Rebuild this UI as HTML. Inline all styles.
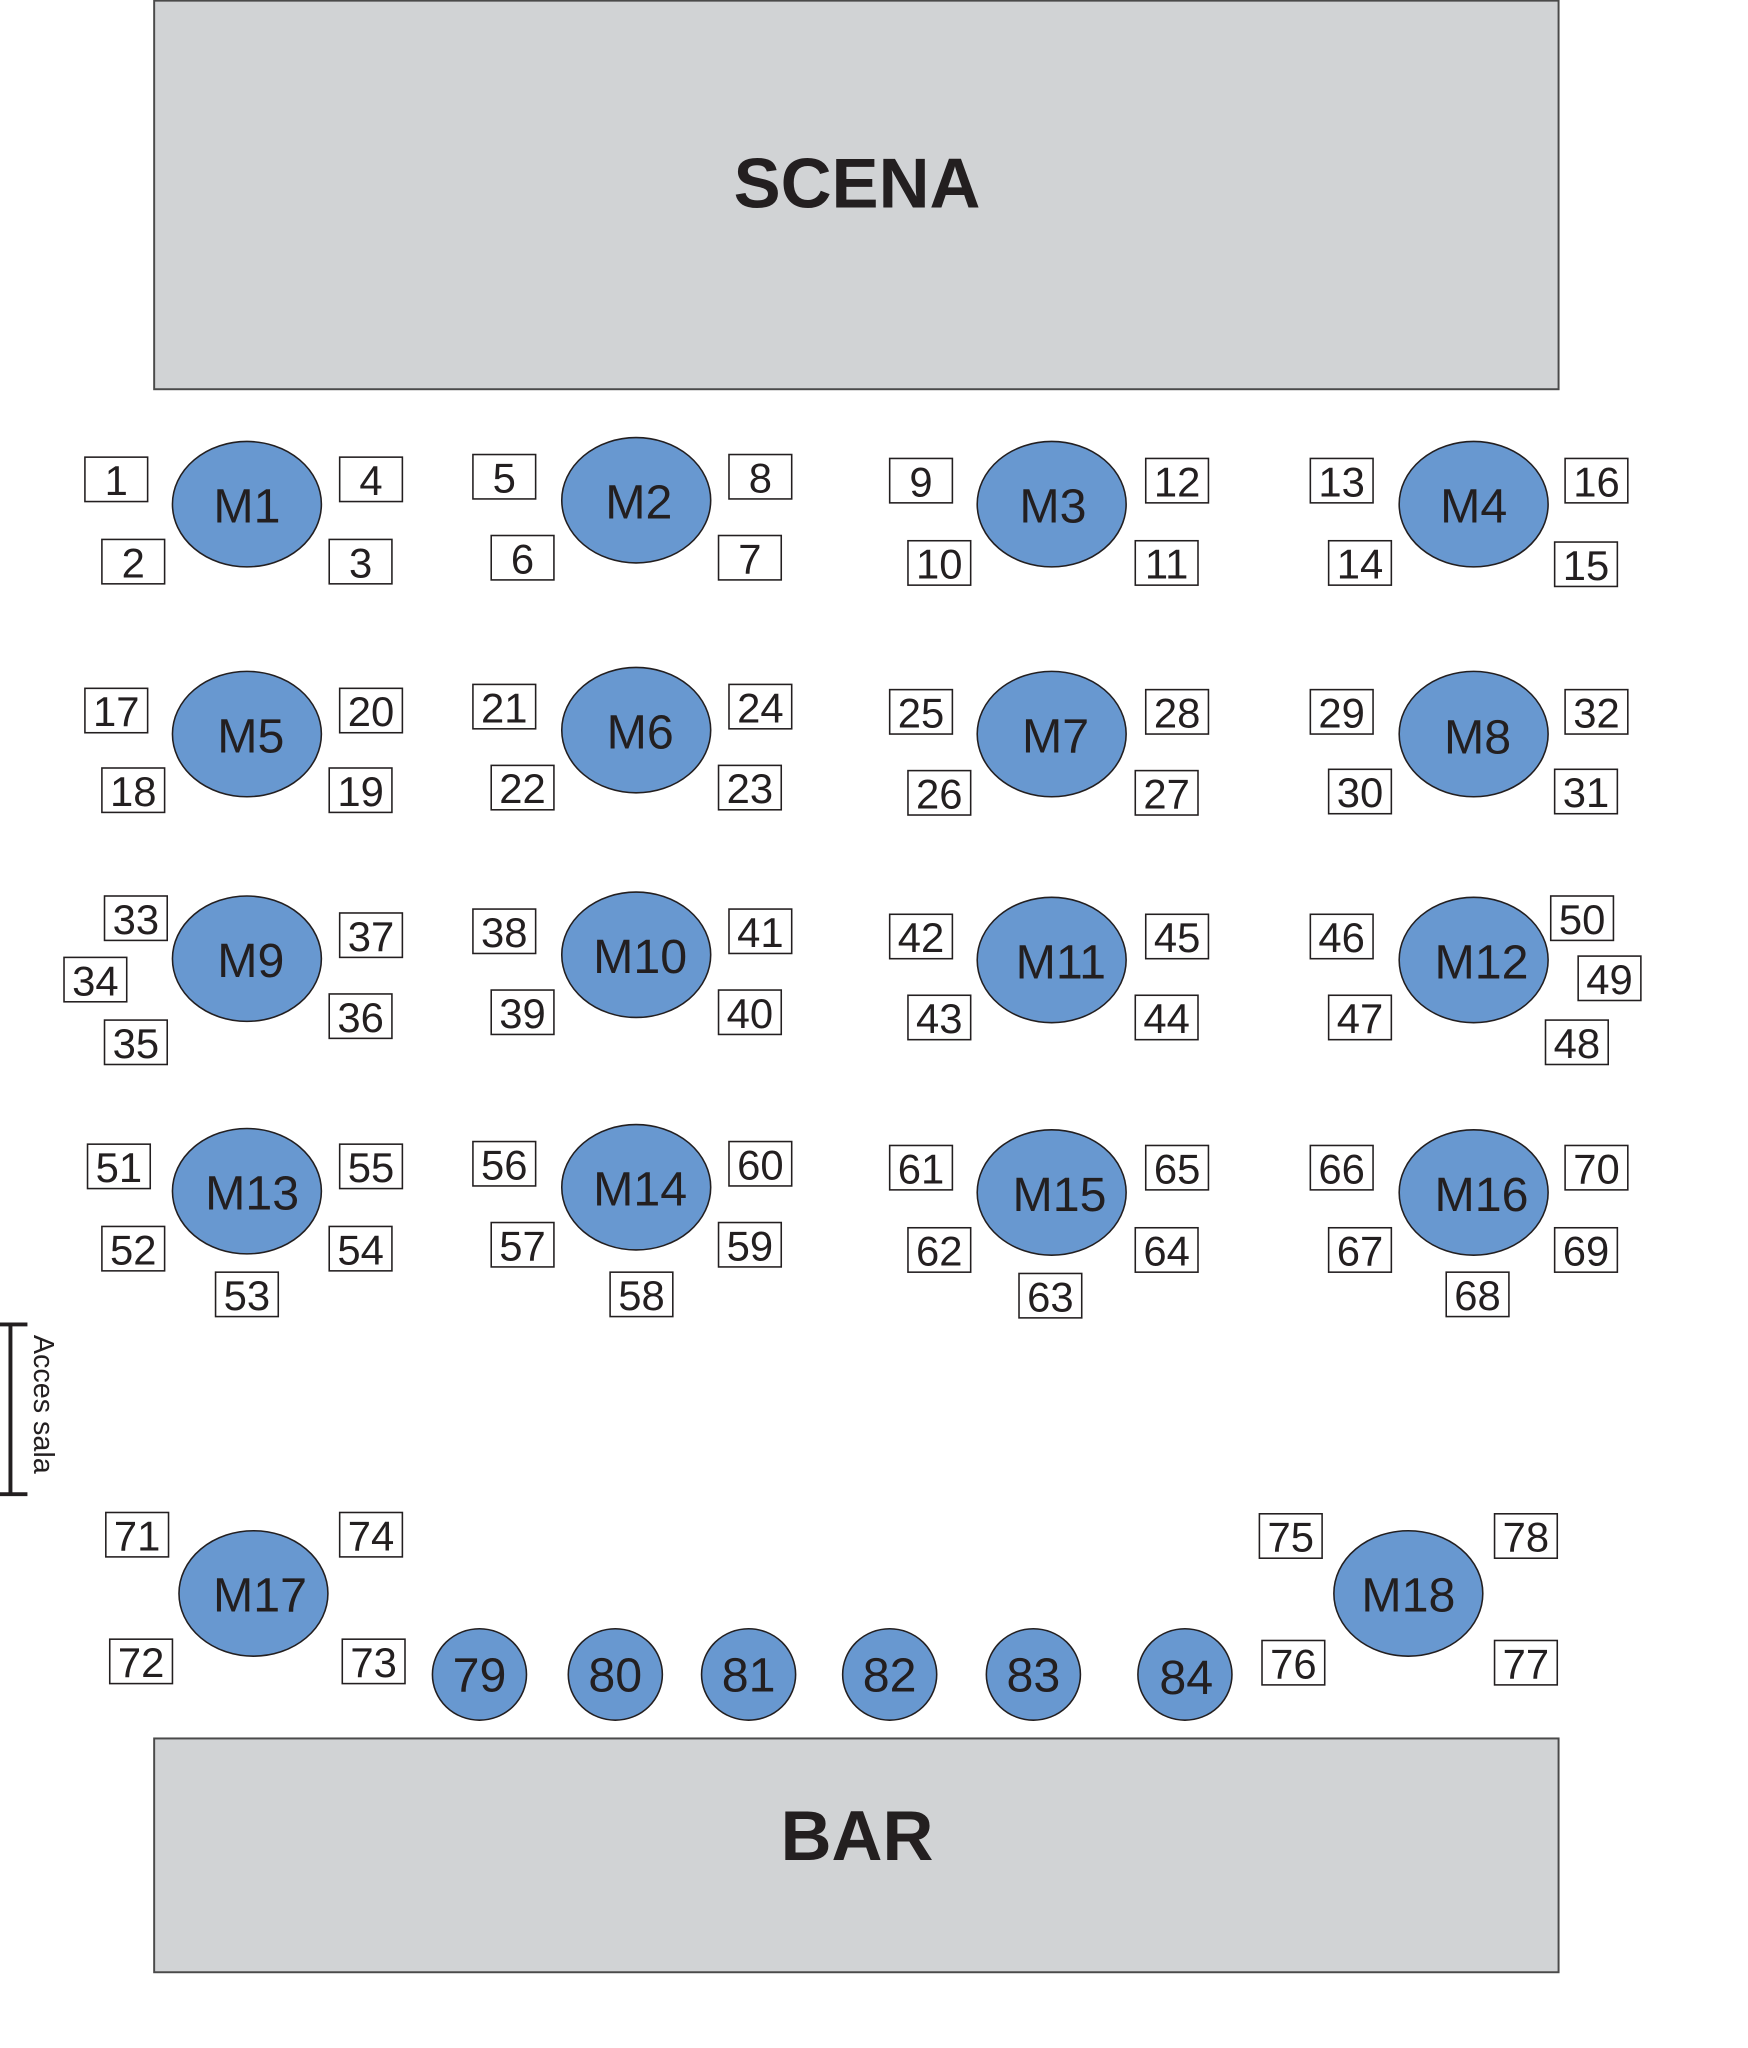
<!DOCTYPE html>
<html><head><meta charset="utf-8"><style>html,body{margin:0;padding:0;background:#fff}svg{display:block}</style></head>
<body>
<svg width="1748" height="2048" viewBox="0 0 1338 1568" preserveAspectRatio="none" xmlns="http://www.w3.org/2000/svg" font-family="Liberation Sans, sans-serif">
<rect x="118" y="0.5" width="1075" height="297.5" fill="#d1d3d5" stroke="#4a4a4a" stroke-width="1.5"/>
<text x="656" y="159" font-size="54" font-weight="bold" text-anchor="middle" fill="#231f20">SCENA</text>
<rect x="118" y="1331" width="1075" height="179" fill="#d1d3d5" stroke="#4a4a4a" stroke-width="1.5"/>
<text x="656" y="1424" font-size="54" font-weight="bold" text-anchor="middle" fill="#231f20">BAR</text>
<g stroke="#231f20" stroke-width="3" fill="none"><line x1="8" y1="1014" x2="8" y2="1144"/><line x1="0" y1="1014" x2="21" y2="1014"/><line x1="0" y1="1144" x2="21" y2="1144"/></g>
<text x="0" y="0" font-size="22" fill="#231f20" transform="translate(26,1022) rotate(90)">Acces sala</text>
<g fill="#6898d0" stroke="#231f20" stroke-width="1.2">
<ellipse cx="189" cy="386" rx="57" ry="48"/><ellipse cx="487" cy="383" rx="57" ry="48"/><ellipse cx="805" cy="386" rx="57" ry="48"/><ellipse cx="1128" cy="386" rx="57" ry="48"/>
<ellipse cx="189" cy="562" rx="57" ry="48"/><ellipse cx="487" cy="559" rx="57" ry="48"/><ellipse cx="805" cy="562" rx="57" ry="48"/><ellipse cx="1128" cy="562" rx="57" ry="48"/>
<ellipse cx="189" cy="734" rx="57" ry="48"/><ellipse cx="487" cy="731" rx="57" ry="48"/><ellipse cx="805" cy="735" rx="57" ry="48"/><ellipse cx="1128" cy="735" rx="57" ry="48"/>
<ellipse cx="189" cy="912" rx="57" ry="48"/><ellipse cx="487" cy="909" rx="57" ry="48"/><ellipse cx="805" cy="913" rx="57" ry="48"/><ellipse cx="1128" cy="913" rx="57" ry="48"/>
<ellipse cx="194" cy="1220" rx="57" ry="48"/><ellipse cx="1078" cy="1220" rx="57" ry="48"/>
<ellipse cx="367" cy="1282" rx="36" ry="35"/><ellipse cx="471" cy="1282" rx="36" ry="35"/><ellipse cx="573" cy="1282" rx="36" ry="35"/><ellipse cx="681" cy="1282" rx="36" ry="35"/><ellipse cx="791" cy="1282" rx="36" ry="35"/><ellipse cx="907" cy="1282" rx="36" ry="35"/>
</g>
<g font-size="37" text-anchor="middle" fill="#231f20">
<text x="189" y="400">M1</text><text x="489" y="397">M2</text><text x="806" y="400">M3</text><text x="1128" y="400">M4</text>
<text x="192" y="576">M5</text><text x="490" y="573">M6</text><text x="808" y="576">M7</text><text x="1131" y="577">M8</text>
<text x="192" y="748">M9</text><text x="490" y="745">M10</text><text x="812" y="749">M11</text><text x="1134" y="749">M12</text>
<text x="193" y="926">M13</text><text x="490" y="923">M14</text><text x="811" y="927">M15</text><text x="1134" y="927">M16</text>
<text x="199" y="1234">M17</text><text x="1078" y="1234">M18</text>
<text x="367" y="1295">79</text><text x="471" y="1295">80</text><text x="573" y="1295">81</text><text x="681" y="1295">82</text><text x="791" y="1295">83</text><text x="908" y="1297">84</text>
</g>
<g fill="#fff" stroke="#231f20" stroke-width="1.2">
<rect x="65" y="350" width="48" height="34"/><rect x="78" y="413" width="48" height="34"/><rect x="260" y="350" width="48" height="34"/><rect x="252" y="413" width="48" height="34"/>
<rect x="362" y="348" width="48" height="34"/><rect x="376" y="410" width="48" height="34"/><rect x="558" y="348" width="48" height="34"/><rect x="550" y="410" width="48" height="34"/>
<rect x="681" y="351" width="48" height="34"/><rect x="695" y="414" width="48" height="34"/><rect x="877" y="351" width="48" height="34"/><rect x="869" y="414" width="48" height="34"/>
<rect x="1003" y="351" width="48" height="34"/><rect x="1017" y="414" width="48" height="34"/><rect x="1198" y="351" width="48" height="34"/><rect x="1190" y="415" width="48" height="34"/>
<rect x="65" y="527" width="48" height="34"/><rect x="78" y="588" width="48" height="34"/><rect x="260" y="527" width="48" height="34"/><rect x="252" y="588" width="48" height="34"/>
<rect x="362" y="524" width="48" height="34"/><rect x="376" y="586" width="48" height="34"/><rect x="558" y="524" width="48" height="34"/><rect x="550" y="586" width="48" height="34"/>
<rect x="681" y="528" width="48" height="34"/><rect x="695" y="590" width="48" height="34"/><rect x="877" y="528" width="48" height="34"/><rect x="869" y="590" width="48" height="34"/>
<rect x="1003" y="528" width="48" height="34"/><rect x="1017" y="589" width="48" height="34"/><rect x="1198" y="528" width="48" height="34"/><rect x="1190" y="589" width="48" height="34"/>
<rect x="80" y="686" width="48" height="34"/><rect x="49" y="733" width="48" height="34"/><rect x="80" y="781" width="48" height="34"/><rect x="260" y="699" width="48" height="34"/><rect x="252" y="761" width="48" height="34"/>
<rect x="362" y="696" width="48" height="34"/><rect x="376" y="758" width="48" height="34"/><rect x="558" y="696" width="48" height="34"/><rect x="550" y="758" width="48" height="34"/>
<rect x="681" y="700" width="48" height="34"/><rect x="695" y="762" width="48" height="34"/><rect x="877" y="700" width="48" height="34"/><rect x="869" y="762" width="48" height="34"/>
<rect x="1003" y="700" width="48" height="34"/><rect x="1017" y="762" width="48" height="34"/><rect x="1187" y="686" width="48" height="34"/><rect x="1208" y="732" width="48" height="34"/><rect x="1183" y="781" width="48" height="34"/>
<rect x="67" y="876" width="48" height="34"/><rect x="78" y="939" width="48" height="34"/><rect x="165" y="974" width="48" height="34"/><rect x="260" y="876" width="48" height="34"/><rect x="252" y="939" width="48" height="34"/>
<rect x="362" y="874" width="48" height="34"/><rect x="376" y="936" width="48" height="34"/><rect x="467" y="974" width="48" height="34"/><rect x="558" y="874" width="48" height="34"/><rect x="550" y="936" width="48" height="34"/>
<rect x="681" y="877" width="48" height="34"/><rect x="695" y="940" width="48" height="34"/><rect x="780" y="975" width="48" height="34"/><rect x="877" y="877" width="48" height="34"/><rect x="869" y="940" width="48" height="34"/>
<rect x="1003" y="877" width="48" height="34"/><rect x="1017" y="940" width="48" height="34"/><rect x="1107" y="974" width="48" height="34"/><rect x="1198" y="877" width="48" height="34"/><rect x="1190" y="940" width="48" height="34"/>
<rect x="81" y="1158" width="48" height="34"/><rect x="84" y="1255" width="48" height="34"/><rect x="260" y="1158" width="48" height="34"/><rect x="262" y="1255" width="48" height="34"/>
<rect x="964" y="1159" width="48" height="34"/><rect x="966" y="1256" width="48" height="34"/><rect x="1144" y="1159" width="48" height="34"/><rect x="1144" y="1256" width="48" height="34"/>
</g>
<g font-size="32" text-anchor="middle" fill="#231f20">
<text x="89" y="379">1</text><text x="102" y="442">2</text><text x="284" y="379">4</text><text x="276" y="442">3</text>
<text x="386" y="377">5</text><text x="400" y="439">6</text><text x="582" y="377">8</text><text x="574" y="439">7</text>
<text x="705" y="380">9</text><text x="719" y="443">10</text><text x="901" y="380">12</text><text x="893" y="443">11</text>
<text x="1027" y="380">13</text><text x="1041" y="443">14</text><text x="1222" y="380">16</text><text x="1214" y="444">15</text>
<text x="89" y="556">17</text><text x="102" y="617">18</text><text x="284" y="556">20</text><text x="276" y="617">19</text>
<text x="386" y="553">21</text><text x="400" y="615">22</text><text x="582" y="553">24</text><text x="574" y="615">23</text>
<text x="705" y="557">25</text><text x="719" y="619">26</text><text x="901" y="557">28</text><text x="893" y="619">27</text>
<text x="1027" y="557">29</text><text x="1041" y="618">30</text><text x="1222" y="557">32</text><text x="1214" y="618">31</text>
<text x="104" y="715">33</text><text x="73" y="762">34</text><text x="104" y="810">35</text><text x="284" y="728">37</text><text x="276" y="790">36</text>
<text x="386" y="725">38</text><text x="400" y="787">39</text><text x="582" y="725">41</text><text x="574" y="787">40</text>
<text x="705" y="729">42</text><text x="719" y="791">43</text><text x="901" y="729">45</text><text x="893" y="791">44</text>
<text x="1027" y="729">46</text><text x="1041" y="791">47</text><text x="1211" y="715">50</text><text x="1232" y="761">49</text><text x="1207" y="810">48</text>
<text x="91" y="905">51</text><text x="102" y="968">52</text><text x="189" y="1003">53</text><text x="284" y="905">55</text><text x="276" y="968">54</text>
<text x="386" y="903">56</text><text x="400" y="965">57</text><text x="491" y="1003">58</text><text x="582" y="903">60</text><text x="574" y="965">59</text>
<text x="705" y="906">61</text><text x="719" y="969">62</text><text x="804" y="1004">63</text><text x="901" y="906">65</text><text x="893" y="969">64</text>
<text x="1027" y="906">66</text><text x="1041" y="969">67</text><text x="1131" y="1003">68</text><text x="1222" y="906">70</text><text x="1214" y="969">69</text>
<text x="105" y="1187">71</text><text x="108" y="1284">72</text><text x="284" y="1187">74</text><text x="286" y="1284">73</text>
<text x="988" y="1188">75</text><text x="990" y="1285">76</text><text x="1168" y="1188">78</text><text x="1168" y="1285">77</text>
</g>
</svg>
</body></html>
